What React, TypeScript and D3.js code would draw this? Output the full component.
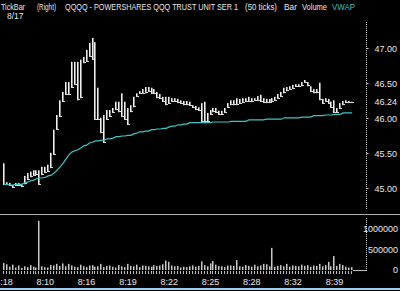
import React from "react";
import * as d3 from "d3";

const highs = [
  45.36, 45.09, 45.08, 45.05, 45.08, 45.08, 45.06, 45.18, 45.22, 45.24,
  45.26, 45.26, 45.26, 45.31, 45.31, 45.34, 45.51, 45.84, 46.05, 46.26,
  46.38, 46.52, 46.52, 46.81, 46.81, 46.81, 46.84, 46.88, 46.98, 47.08,
  47.15, 47.09, 46.44, 46.01, 46.05, 46.12, 46.12, 46.15, 46.24, 46.24,
  46.36, 46.24, 46.15, 46.19, 46.31, 46.36, 46.39, 46.42, 46.45, 46.45,
  46.44, 46.42, 46.38, 46.35, 46.31, 46.31, 46.31, 46.29, 46.29, 46.28,
  46.26, 46.25, 46.25, 46.24, 46.19, 46.18, 46.16, 46.22, 46.24, 46.08,
  46.12, 46.15, 46.15, 46.11, 46.11, 46.15, 46.22, 46.26, 46.26, 46.29,
  46.28, 46.29, 46.29, 46.31, 46.29, 46.29, 46.32, 46.34, 46.29, 46.28,
  46.28, 46.29, 46.31, 46.35, 46.38, 46.44, 46.45, 46.46, 46.48, 46.49,
  46.49, 46.52, 46.55, 46.52, 46.46, 46.42, 46.42, 46.51, 46.28, 46.29,
  46.28, 46.24, 46.26, 46.15, 46.22, 46.25, 46.26, 46.25, 46.24,
];

const lows = [
  45.05, 45.05, 45.04, 45.01, 45.04, 45.04, 45.02, 45.06, 45.12, 45.16,
  45.18, 45.19, 45.05, 45.19, 45.22, 45.24, 45.29, 45.48, 45.84, 46.02,
  46.24, 46.34, 46.34, 46.44, 46.48, 46.26, 46.29, 46.79, 46.81, 46.88,
  46.84, 45.98, 45.98, 45.79, 45.65, 45.98, 46.02, 46.08, 46.12, 46.09,
  46.02, 45.98, 45.91, 46.09, 46.16, 46.31, 46.35, 46.35, 46.36, 46.38,
  46.35, 46.35, 46.29, 46.28, 46.24, 46.19, 46.21, 46.24, 46.24, 46.22,
  46.21, 46.19, 46.19, 46.18, 46.15, 46.12, 46.11, 45.95, 45.95, 45.95,
  46.05, 46.09, 46.08, 46.05, 46.05, 46.08, 46.15, 46.19, 46.19, 46.19,
  46.21, 46.22, 46.24, 46.24, 46.24, 46.25, 46.25, 46.24, 46.22, 46.22,
  46.22, 46.24, 46.25, 46.28, 46.31, 46.36, 46.39, 46.41, 46.42, 46.45,
  46.45, 46.46, 46.51, 46.46, 46.38, 46.36, 46.36, 46.26, 46.21, 46.24,
  46.21, 46.15, 46.08, 46.08, 46.14, 46.19, 46.22, 46.22, 46.22,
];

const vwap = [
  45.06, 45.06, 45.05, 45.05, 45.06, 45.06, 45.06, 45.08, 45.09, 45.11,
  45.12, 45.14, 45.15, 45.15, 45.16, 45.18, 45.19, 45.22, 45.26, 45.31,
  45.36, 45.42, 45.48, 45.52, 45.54, 45.55, 45.58, 45.61, 45.62, 45.65,
  45.66, 45.68, 45.68, 45.69, 45.69, 45.71, 45.71, 45.72, 45.74, 45.74,
  45.75, 45.75, 45.76, 45.76, 45.78, 45.79, 45.81, 45.81, 45.82, 45.82,
  45.84, 45.84, 45.85, 45.85, 45.86, 45.86, 45.88, 45.89, 45.89, 45.91,
  45.91, 45.92, 45.92, 45.94, 45.94, 45.94, 45.94, 45.94, 45.94, 45.94,
  45.94, 45.95, 45.95, 45.95, 45.95, 45.95, 45.95, 45.96, 45.96, 45.96,
  45.96, 45.96, 45.96, 45.98, 45.98, 45.98, 45.98, 45.98, 45.98, 45.99,
  45.99, 45.99, 45.99, 45.99, 45.99, 46.01, 46.01, 46.01, 46.01, 46.01,
  46.01, 46.02, 46.02, 46.02, 46.02, 46.04, 46.04, 46.04, 46.04, 46.05,
  46.05, 46.05, 46.06, 46.06, 46.06, 46.08, 46.08, 46.08, 46.08,
];

const volumes = [
  170000, 140000, 80000, 130000, 60000, 110000, 50000, 90000, 70000, 120000,
  80000, 60000, 1200000, 90000, 70000, 60000, 120000, 110000, 150000, 100000,
  160000, 90000, 150000, 110000, 80000, 70000, 130000, 90000, 70000, 110000,
  120000, 80000, 90000, 150000, 70000, 100000, 110000, 80000, 60000, 120000,
  90000, 70000, 150000, 100000, 90000, 130000, 70000, 110000, 100000, 90000,
  80000, 120000, 100000, 110000, 140000, 230000, 200000, 110000, 90000, 100000,
  60000, 80000, 70000, 90000, 110000, 80000, 100000, 210000, 120000, 90000,
  160000, 220000, 130000, 100000, 90000, 70000, 110000, 110000, 100000, 240000,
  90000, 80000, 120000, 100000, 80000, 130000, 90000, 110000, 150000, 140000,
  90000, 540000, 80000, 100000, 120000, 90000, 150000, 80000, 110000, 100000,
  90000, 130000, 100000, 120000, 80000, 110000, 100000, 150000, 90000, 120000,
  200000, 90000, 340000, 100000, 150000, 120000, 80000, 60000, 70000,
];

const timeTickIndex = [0, 14, 28, 42, 56, 70, 84, 98, 112];
const timeTickLabels = ["4:18", "8:10", "8:16", "8:19", "8:22", "8:25", "8:28", "8:32", "8:39"];
const priceTicks = [45.0, 45.5, 46.0, 46.5, 47.0];
const lastPrice = 46.24;
const volumeTicks = [0, 500000, 1000000];

const titleParts = [
  { text: "TickBar", x: 1, w: 24, color: "#e8e8e8" },
  { text: "(Right)", x: 37, w: 19, color: "#e8e8e8" },
  { text: "QQQQ - POWERSHARES QQQ TRUST UNIT SER 1", x: 65, w: 173, color: "#e8e8e8" },
  { text: "(50 ticks)", x: 245, w: 32, color: "#e8e8e8" },
  { text: "Bar", x: 284, w: 13, color: "#e8e8e8" },
  { text: "Volume", x: 302, w: 25, color: "#e8e8e8" },
  { text: "VWAP", x: 332, w: 23, color: "#3fc4c4" },
];
const dateLabel = "8/17";

export default function App() {
  const W = 400;
  const H = 291;
  const n = highs.length;
  const x = d3.scaleLinear().domain([0, n - 1]).range([4, 352.1]);
  const y = d3.scaleLinear().domain([45, 47]).range([188.5, 48.5]);
  const yv = d3.scaleLinear().domain([0, 1000000]).range([270, 229]);
  const axisX = 366.5;
  const font = "'Liberation Sans', Arial, sans-serif";

  const vwapLine = d3
    .line<number>()
    .x((_, i) => x(i))
    .y((d) => y(d))
    .curve(d3.curveLinear)(vwap) as string;

  return (
    <svg
      width={W}
      height={H}
      style={{ position: "absolute", left: 0, top: 0, display: "block", background: "#000" }}
    >
      <rect x={0} y={0} width={W} height={H} fill="#000" />
      {/* title */}
      {titleParts.map((p, i) => (
        <text
          key={i}
          x={p.x}
          y={9.5}
          fill={p.color}
          fontFamily={font}
          fontSize={8.5}
          textLength={p.w}
          lengthAdjust="spacingAndGlyphs"
        >
          {p.text}
        </text>
      ))}
      <text x={7} y={18.5} fill="#e8e8e8" fontFamily={font} fontSize={8.5}>
        {dateLabel}
      </text>

      {/* price bars */}
      {highs.map((h, i) => (
        <g key={i}>
          <rect
            x={Math.round(x(i))}
            y={y(h)}
            width={1}
            height={Math.max(1, y(lows[i]) - y(h))}
            fill="#8a8a8a"
          />
          <line
            x1={Math.round(x(i)) - 0.5}
            x2={Math.round(x(i)) - 0.5}
            y1={y(h)}
            y2={y(lows[i])}
            stroke="#f0f0f0"
            strokeWidth={1}
          />
          <line
            x1={Math.round(x(i)) - 1}
            x2={Math.round(x(i)) + 2}
            y1={Math.round(y(lows[i])) - 0.5}
            y2={Math.round(y(lows[i])) - 0.5}
            stroke="#d8d8d8"
            strokeWidth={1}
          />
        </g>
      ))}

      {/* VWAP */}
      <path d={vwapLine} fill="none" stroke="#3fc4c4" strokeWidth={1.2} />

      {/* price axis */}
      <line x1={axisX} x2={axisX} y1={22} y2={210} stroke="#cfcfcf" strokeDasharray="1,1" />
      {priceTicks.map((t) => (
        <g key={t}>
          <line x1={axisX} x2={axisX + 2} y1={y(t)} y2={y(t)} stroke="#cfcfcf" />
          <text
            x={397}
            y={y(t) + 3}
            fill="#e8e8e8"
            fontFamily={font}
            fontSize={9}
            textAnchor="end"
          >
            {t.toFixed(2)}
          </text>
        </g>
      ))}
      <text
        x={397}
        y={y(lastPrice) + 3}
        fill="#e8e8e8"
        fontFamily={font}
        fontSize={9}
        textAnchor="end"
      >
        {lastPrice.toFixed(2)}
      </text>

      {/* separator */}
      <line x1={0} x2={W} y1={214.5} y2={214.5} stroke="#b0b0b0" />

      {/* volume bars */}
      {volumes.map((v, i) => (
        <rect
          key={i}
          x={Math.round(x(i)) - 1}
          y={yv(v)}
          width={1.5}
          height={yv(0) - yv(v)}
          fill="#c8c8c8"
        />
      ))}
      <line x1={x(n - 1) + 1} x2={axisX} y1={270.5} y2={270.5} stroke="#bdbdbd" />
      <line x1={axisX} x2={axisX} y1={218} y2={271} stroke="#cfcfcf" strokeDasharray="1,1" />
      {volumeTicks.map((t) => (
        <text
          key={t}
          x={398}
          y={yv(t) + 3}
          fill="#e8e8e8"
          fontFamily={font}
          fontSize={9}
          textAnchor="end"
        >
          {t}
        </text>
      ))}

      {/* time axis ticks */}
      {volumes.map((_, i) => (
        <line
          key={i}
          x1={Math.round(x(i)) - 0.5}
          x2={Math.round(x(i)) - 0.5}
          y1={271}
          y2={274}
          stroke="#bdbdbd"
        />
      ))}
      {timeTickIndex.map((ti, k) => (
        <text
          key={k}
          x={x(ti)}
          y={285}
          fill="#e8e8e8"
          fontFamily={font}
          fontSize={9}
          textAnchor="middle"
        >
          {timeTickLabels[k]}
        </text>
      ))}

      {/* bottom border */}
      <rect x={0} y={288} width={W} height={2} fill="#9ccfee" />
    </svg>
  );
}
